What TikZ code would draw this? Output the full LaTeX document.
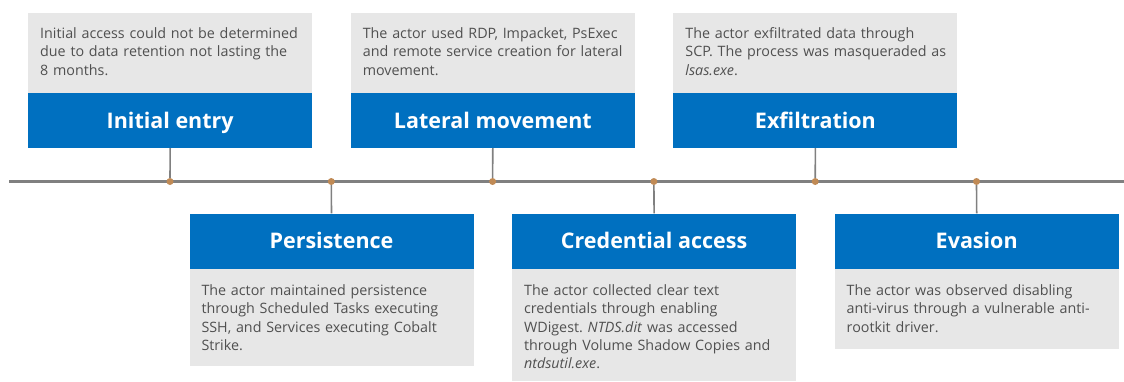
\documentclass[tikz,border=0pt]{standalone}
\usepackage{fontspec}
\setmainfont{Open Sans}
\frenchspacing
\definecolor{msblue}{HTML}{0070C0}
\definecolor{boxgray}{HTML}{E7E7E7}
\definecolor{txtgray}{HTML}{505050}
\definecolor{linegray}{HTML}{808080}
\definecolor{dotc}{HTML}{C08A55}
\begin{document}
\begin{tikzpicture}[x=1pt,y=-1pt,
  title/.style={fill=msblue, text=white, font=\bfseries\fontsize{21.5}{25}\selectfont,
    minimum width=284pt, minimum height=55pt, inner sep=0pt, anchor=north west,
    text height=15.5pt, text depth=0pt},
  panel/.style={fill=boxgray, minimum width=284pt, inner sep=0pt, anchor=north west},
  body/.style={text=txtgray, font=\fontsize{14.3}{18.4}\selectfont\frenchspacing, align=left,
    text width=278pt, inner sep=0pt, anchor=north west},
  dot/.style={circle, fill=dotc, minimum size=7pt, inner sep=0pt},
  stem/.style={draw=linegray, line width=1.6pt},
  axis/.style={draw=linegray, line width=3pt},
]
\useasboundingbox (0,0) rectangle (1124,381);

% timeline
\coordinate (tl0) at (9,181.5);
\coordinate (tl1) at (1124,181.5);
\draw[axis] (tl0) -- (tl1);

% top boxes
\node[panel, minimum height=80pt] (g1) at (28,12.7) {};
\node[title] (t1) at (28,92.7) {Initial entry};
\node[body] (b1) at (40,27.3) {Initial access could not be determined\\due to data retention not lasting the\\8 months.};

\node[panel, minimum height=80pt] (g3) at (350.6,12.7) {};
\node[title] (t3) at (350.6,92.7) {Lateral movement};
\node[body] (b3) at (362.6,27.3) {The actor used RDP, Impacket, PsExec\\and remote service creation for lateral\\movement.};

\node[panel, minimum height=80pt] (g5) at (673.2,12.7) {};
\node[title] (t5) at (673.2,92.7) {Exfiltration};
\node[body] (b5) at (685.2,27.3) {The actor exfiltrated data through\\SCP. The process was masqueraded as\\\textit{lsas.exe}.};

% bottom boxes
\node[title] (t2) at (189.3,213.3) {Persistence};
\node[panel, minimum height=97.7pt] (g2) at (189.3,268.3) {};
\node[body] (b2) at (201.3,284.3) {The actor maintained persistence\\through Scheduled Tasks executing\\SSH, and Services executing Cobalt\\Strike.};

\node[title] (t4) at (511.9,213.3) {Credential access};
\node[panel, minimum height=112.7pt] (g4) at (511.9,268.3) {};
\node[body] (b4) at (523.9,284.3) {The actor collected clear text\\credentials through enabling\\WDigest. \textit{NTDS.dit} was accessed\\through Volume Shadow Copies and\\\textit{ntdsutil.exe}.};

\node[title] (t6) at (834.5,213.3) {Evasion};
\node[panel, minimum height=80pt] (g6) at (834.5,268.3) {};
\node[body] (b6) at (846.5,284.3) {The actor was observed disabling\\anti-virus through a vulnerable anti-\\rootkit driver.};

% dots
\node[dot] (d1) at (170,181.5) {};
\node[dot] (d2) at (331.3,181.5) {};
\node[dot] (d3) at (492.6,181.5) {};
\node[dot] (d4) at (653.9,181.5) {};
\node[dot] (d5) at (815.2,181.5) {};
\node[dot] (d6) at (976.5,181.5) {};

% stems
\draw[stem] (t1.south) -- (d1.north);
\draw[stem] (t3.south) -- (d3.north);
\draw[stem] (t5.south) -- (d5.north);
\draw[stem] (d2.south) -- (t2.north);
\draw[stem] (d4.south) -- (t4.north);
\draw[stem] (d6.south) -- (t6.north);
\end{tikzpicture}
\end{document}
